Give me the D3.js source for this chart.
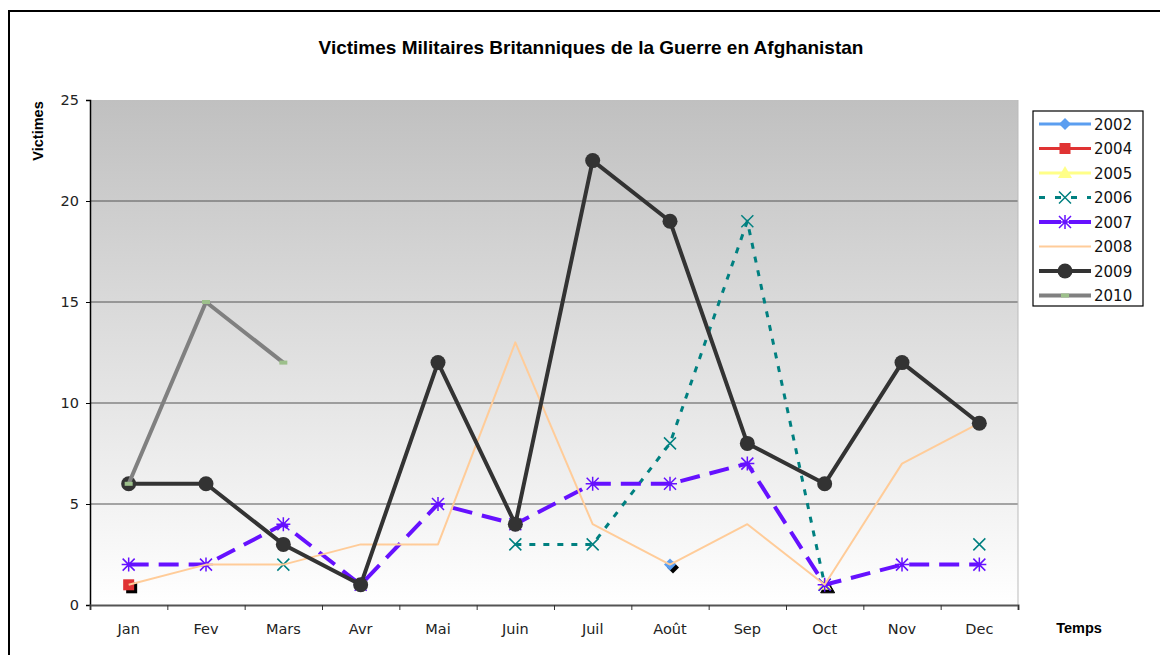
<!DOCTYPE html>
<html>
<head>
<meta charset="utf-8">
<script src="https://cdn.jsdelivr.net/npm/d3@7"></script>
<style>
  body { margin: 0; background: #fff; }
  text { font-family: "Liberation Sans", Arial, sans-serif; }
  .tickfont text, text.tickfont { font-family: "DejaVu Sans", Verdana, sans-serif; }
</style>
</head>
<body>
<svg id="chart" width="1160" height="655"></svg>
<script>
// data
const months = ["Jan", "Fev", "Mars", "Avr", "Mai", "Juin", "Juil", "Août", "Sep", "Oct", "Nov", "Dec"];
const yTicks = [0, 5, 10, 15, 20, 25];
const years = ["2002", "2004", "2005", "2006", "2007", "2008", "2009", "2010"];
const v2002 = [null, null, null, null, null, null, null, 2, null, null, null, null];
const v2004 = [1, null, null, null, null, null, null, null, null, null, null, null];
const v2005 = [null, null, null, null, null, null, null, null, null, 1, null, null];
const v2006 = [null, null, 2, null, null, 3, 3, 8, 19, 1, null, 3];
const v2007 = [2, 2, 4, 1, 5, 4, 6, 6, 7, 1, 2, 2];
const v2008 = [1, 2, 2, 3, 3, 13, 4, 2, 4, 1, 7, 9];
const v2009 = [6, 6, 3, 1, 12, 4, 22, 19, 8, 6, 12, 9];
const v2010 = [6, 15, 12, null, null, null, null, null, null, null, null, null];

const styles = {
    "2002": { color: "#5b9ef0", width: 3, dash: null, legendDash: null, marker: "diamond", shadow: true },
    "2004": { color: "#e03333", width: 3, dash: null, legendDash: null, marker: "square", shadow: true },
    "2005": { color: "#ffff88", width: 3, dash: null, legendDash: null, marker: "triangle", shadow: true },
    "2006": { color: "#008080", width: 3, dash: "6,8", legendDash: "6,10", marker: "x" },
    "2007": { color: "#6611ff", width: 4, dash: "20,10", legendDash: "22,8", marker: "star" },
    "2008": { color: "#ffcc99", width: 2, dash: null, legendDash: null, marker: null },
    "2009": { color: "#333333", width: 4, dash: null, legendDash: null, marker: "circle" },
    "2010": { color: "#808080", width: 4, dash: null, legendDash: null, marker: "bar" }
};
const seriesValues = [v2002, v2004, v2005, v2006, v2007, v2008, v2009, v2010];
const series = years.map((y, i) => ({ name: y, values: seriesValues[i], style: styles[y] }));

const svg = d3.select("#chart");
const margin = { left: 90, right: 1018, top: 100, bottom: 605 };

// outer frame
svg.append("rect")
    .attr("x", 9).attr("y", 11)
    .attr("width", 1160).attr("height", 700)
    .attr("fill", "none").attr("stroke", "#000").attr("stroke-width", 2);

// background gradient
const defs = svg.append("defs");
const grad = defs.append("linearGradient")
    .attr("id", "bg").attr("x1", 0).attr("y1", 0).attr("x2", 0).attr("y2", 1);
grad.append("stop").attr("offset", "0%").attr("stop-color", "#c0c0c0");
grad.append("stop").attr("offset", "100%").attr("stop-color", "#ffffff");

const x = d3.scaleBand().domain(months).range([margin.left, margin.right]);
const xEdge = d3.scaleLinear().domain([0, 12]).range([margin.left, margin.right]);
const y = d3.scaleLinear().domain([0, 25]).range([margin.bottom, margin.top]);
const cx = m => x(m) + x.bandwidth() / 2;

svg.append("rect")
    .attr("x", margin.left).attr("y", margin.top)
    .attr("width", margin.right - margin.left).attr("height", margin.bottom - margin.top)
    .attr("fill", "url(#bg)");

// gridlines
svg.append("g")
    .selectAll("line")
    .data(yTicks.filter(d => d > 0 && d < 25))
    .join("line")
    .attr("x1", margin.left).attr("x2", margin.right)
    .attr("y1", d => y(d)).attr("y2", d => y(d))
    .attr("stroke", "#555").attr("stroke-width", 1);

// right border of plot
svg.append("line")
    .attr("x1", margin.right).attr("x2", margin.right)
    .attr("y1", margin.top).attr("y2", margin.bottom)
    .attr("stroke", "#bbb").attr("stroke-width", 1);

// y axis
const yAxis = svg.append("g")
    .attr("class", "tickfont")
    .attr("transform", `translate(${margin.left},0)`)
    .call(d3.axisLeft(y).tickValues(yTicks).tickSize(4).tickPadding(7));
yAxis.select(".domain").attr("stroke", "#000").attr("stroke-width", 1.5);
yAxis.selectAll("text").attr("font-size", 14.5).attr("fill", "#222");

// x axis: tick marks at band edges, labels at centers
const xTicks = svg.append("g")
    .attr("transform", `translate(0,${margin.bottom})`)
    .call(d3.axisBottom(xEdge).tickValues(d3.range(13)).tickSize(5).tickFormat(""));
xTicks.select(".domain").attr("stroke", "#555").attr("stroke-width", 2);
xTicks.selectAll(".tick line").attr("stroke", "#333");

const xLabels = svg.append("g")
    .attr("class", "tickfont")
    .attr("transform", `translate(0,${margin.bottom})`)
    .call(d3.axisBottom(x).tickSize(0).tickPadding(19));
xLabels.select(".domain").remove();
xLabels.selectAll("text").attr("font-size", 14.5).attr("fill", "#222");

// titles
svg.append("text")
    .attr("x", 591).attr("y", 54)
    .attr("text-anchor", "middle")
    .attr("font-size", 19).attr("font-weight", "bold")
    .text("Victimes Militaires Britanniques de la Guerre en Afghanistan");

svg.append("text")
    .attr("transform", "translate(43,131) rotate(-90)")
    .attr("text-anchor", "middle")
    .attr("font-size", 14.5).attr("font-weight", "bold")
    .text("Victimes");

svg.append("text")
    .attr("x", 1079).attr("y", 633)
    .attr("text-anchor", "middle")
    .attr("font-size", 14.5).attr("font-weight", "bold")
    .text("Temps");

// markers
function drawMarker(g, type, px, py, color, shadow) {
    if (type === null) return;
    const draw = (sel, dx, dy, fill, stroke) => {
        if (type === "circle") {
            sel.append("circle").attr("cx", px + dx).attr("cy", py + dy).attr("r", 7.5).attr("fill", fill);
        } else if (type === "square") {
            sel.append("rect").attr("x", px + dx - 5.5).attr("y", py + dy - 5.5)
                .attr("width", 11).attr("height", 11).attr("fill", fill);
        } else if (type === "diamond") {
            sel.append("path").attr("d", `M${px + dx},${py + dy - 6}L${px + dx + 6},${py + dy}L${px + dx},${py + dy + 6}L${px + dx - 6},${py + dy}Z`)
                .attr("fill", fill);
        } else if (type === "triangle") {
            sel.append("path").attr("d", `M${px + dx},${py + dy - 7}L${px + dx + 7},${py + dy + 5}L${px + dx - 7},${py + dy + 5}Z`)
                .attr("fill", fill).attr("stroke", stroke || "none").attr("stroke-width", 1);
        } else if (type === "x") {
            sel.append("path").attr("d", `M${px - 6},${py - 6}L${px + 6},${py + 6}M${px + 6},${py - 6}L${px - 6},${py + 6}`)
                .attr("stroke", fill).attr("stroke-width", 1.5);
        } else if (type === "star") {
            sel.append("path").attr("d", `M${px - 6},${py - 6}L${px + 6},${py + 6}M${px + 6},${py - 6}L${px - 6},${py + 6}M${px},${py - 7}L${px},${py + 7}M${px - 7},${py}L${px + 7},${py}`)
                .attr("stroke", fill).attr("stroke-width", 1.5);
        } else if (type === "bar") {
            sel.append("rect").attr("x", px - 4).attr("y", py - 2)
                .attr("width", 8).attr("height", 4).attr("fill", "#9dc08b");
        }
    };
    if (shadow) draw(g, 3, 3, "#000", "#000");
    draw(g, 0, 0, color);
}

const line = d3.line()
    .defined(d => d.v !== null)
    .x(d => cx(d.m))
    .y(d => y(d.v));

const plot = svg.append("g");
series.forEach(s => {
    const pts = s.values.map((v, i) => ({ m: months[i], v: v }));
    plot.append("path")
        .datum(pts)
        .attr("d", line)
        .attr("fill", "none")
        .attr("stroke", s.style.color)
        .attr("stroke-width", s.style.width)
        .attr("stroke-dasharray", s.style.dash)
        .attr("stroke-linejoin", "round");
    const mg = plot.append("g");
    pts.filter(d => d.v !== null).forEach(d => {
        drawMarker(mg, s.style.marker, cx(d.m), y(d.v), s.style.color, s.style.shadow);
    });
});

// legend
const legend = svg.append("g");
legend.append("rect")
    .attr("x", 1033).attr("y", 111)
    .attr("width", 110).attr("height", 195)
    .attr("fill", "#fff").attr("stroke", "#000").attr("stroke-width", 1.2);

series.forEach((s, i) => {
    const ly = 124 + i * 24.5;
    legend.append("line")
        .attr("x1", 1039).attr("x2", 1091)
        .attr("y1", ly).attr("y2", ly)
        .attr("stroke", s.style.color)
        .attr("stroke-width", s.style.width)
        .attr("stroke-dasharray", s.style.legendDash);
    drawMarker(legend, s.style.marker, 1065, ly, s.style.color, false);
    legend.append("text")
        .attr("class", "tickfont")
        .attr("x", 1094).attr("y", ly + 5.5)
        .attr("font-size", 15)
        .attr("fill", "#111")
        .text(s.name);
});
</script>
</body>
</html>
